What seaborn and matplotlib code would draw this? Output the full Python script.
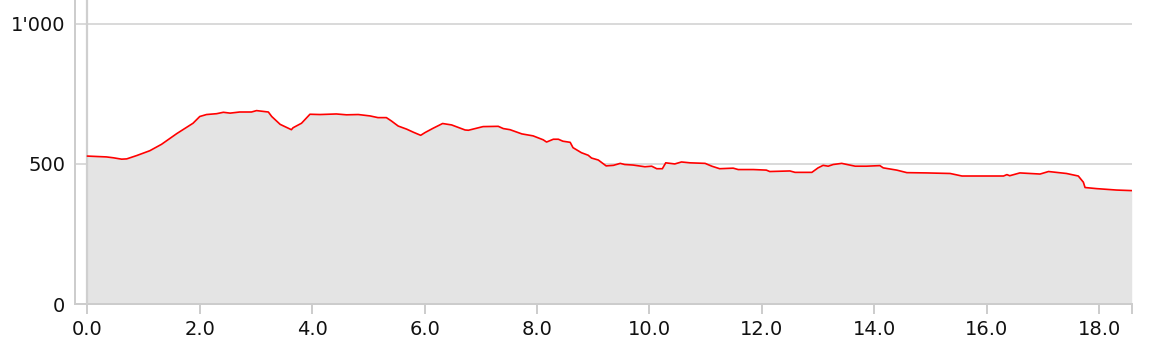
import matplotlib
matplotlib.use("Agg")
import matplotlib.pyplot as plt
import seaborn as sns
import pandas as pd

# distance (km) and elevation (m)
distance_km = [0.00, 0.34, 0.46, 0.61, 0.70, 0.88, 1.11, 1.32, 1.59, 1.88, 2.00, 2.12,
               2.30, 2.42, 2.54, 2.71, 2.92, 3.01, 3.22, 3.28, 3.43, 3.63, 3.66, 3.81,
               3.96, 4.14, 4.43, 4.61, 4.82, 5.03, 5.17, 5.32, 5.41, 5.53, 5.68, 5.80,
               5.93, 6.01, 6.15, 6.32, 6.48, 6.72, 6.78, 7.04, 7.31, 7.40, 7.52, 7.73,
               7.93, 8.11, 8.17, 8.29, 8.38, 8.46, 8.59, 8.64, 8.79, 8.91, 8.97, 9.09,
               9.23, 9.36, 9.48, 9.56, 9.71, 9.92, 10.04, 10.13, 10.23, 10.29, 10.45,
               10.57, 10.72, 10.99, 11.11, 11.25, 11.49, 11.58, 11.85, 12.08, 12.14,
               12.50, 12.59, 12.89, 13.00, 13.09, 13.18, 13.27, 13.42, 13.66, 13.86,
               14.10, 14.16, 14.40, 14.58, 14.93, 15.35, 15.56, 16.30, 16.36, 16.41,
               16.59, 16.95, 17.10, 17.42, 17.63, 17.72, 17.75, 17.96, 18.31, 18.58]
elevation_m = [528, 525, 522, 517, 518, 530, 547, 570, 608, 645, 669, 676,
               679, 684, 681, 685, 685, 690, 685, 669, 641, 622, 629, 645,
               677, 676, 678, 675, 676, 671, 665, 665, 653, 635, 624, 613,
               602, 612, 627, 644, 639, 621, 620, 633, 634, 626, 622, 607,
               600, 586, 578, 588, 588, 581, 577, 558, 540, 531, 521, 514,
               493, 495, 502, 498, 496, 490, 492, 483, 483, 504, 500,
               507, 504, 502, 492, 483, 485, 480, 480, 478, 473,
               475, 470, 470, 486, 495, 492, 498, 502, 492, 492,
               494, 486, 478, 469, 468, 466, 457, 457, 462, 458,
               468, 464, 473, 466, 457, 435, 416, 412, 407, 405]

x_ticks = [0, 2, 4, 6, 8, 10, 12, 14, 16, 18]
x_tick_labels = ["0.0", "2.0", "4.0", "6.0", "8.0", "10.0", "12.0", "14.0", "16.0", "18.0"]
y_ticks = [0, 500, 1000]
y_tick_labels = ["0", "500", "1'000"]

df = pd.DataFrame({"km": distance_km, "elev": elevation_m})

sns.set_theme(style="white")
plt.rcParams["font.family"] = ["DejaVu Sans"]

W, H = 1154, 359
fig = plt.figure(figsize=(W / 100, H / 100), dpi=100)
ax = fig.add_axes([75 / W, (H - 304.3) / H, (1131.7 - 75) / W, 304.3 / H])

grid_c = "#d9d9d9"
for yv in y_ticks:
    ax.axhline(yv, color=grid_c, lw=1.4, zorder=0)
ax.axvline(0, color="#cfcfcf", lw=1.6, zorder=3)

ax.fill_between(df["km"], df["elev"], 0, color="#e4e4e4", lw=0, zorder=1)
sns.lineplot(data=df, x="km", y="elev", color="#ff0000", lw=1.2, ax=ax, zorder=4)

ax.set_xlim(-0.22, 18.58)
ax.set_ylim(0, 1084)
ax.set_xticks(x_ticks)
ax.set_xticklabels(x_tick_labels)
ax.set_xticks([18.58], minor=True)
ax.set_yticks(y_ticks)
ax.set_yticklabels(y_tick_labels)
ax.set_xlabel("")
ax.set_ylabel("")

ax.tick_params(axis="x", which="both", length=7, width=1.4, color="#cccccc",
               labelsize=14, pad=4, labelcolor="#111111", bottom=True)
ax.tick_params(axis="y", length=0, labelsize=14, pad=7, labelcolor="#111111")

for side in ["top", "right"]:
    ax.spines[side].set_visible(False)
for side in ["left", "bottom"]:
    ax.spines[side].set_color("#cccccc")
    ax.spines[side].set_linewidth(1.4)

fig.savefig("out.png", dpi=100)
